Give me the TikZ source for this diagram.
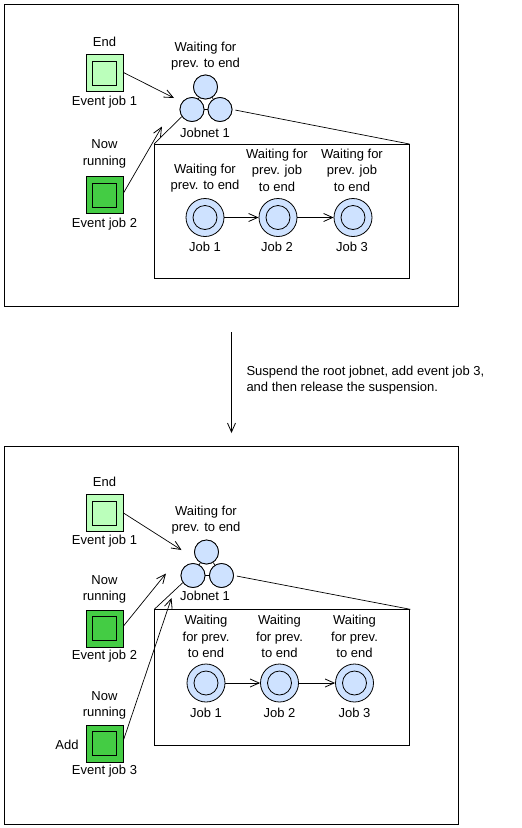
\documentclass[tikz,border=0pt]{standalone}
\usepackage{fontspec}
\setmainfont{Liberation Sans}
\usetikzlibrary{arrows.meta}
\definecolor{lgreen}{RGB}{187,255,187}
\definecolor{dgreen}{RGB}{68,204,68}
\definecolor{lblue}{RGB}{206,226,255}
\begin{document}
\begin{tikzpicture}[x=1pt,y=-1pt,line width=1pt,
  >={Straight Barb[length=9pt,width=8pt,line width=0.8pt]},
  lbl/.style={font=\fontsize{13}{16.5}\selectfont,align=center,inner sep=0pt},
  evbox/.style={draw,minimum size=37pt,inner sep=0pt},
  evin/.style={draw,minimum size=24pt,inner sep=0pt},
  jn/.style={draw,circle,fill=lblue,minimum size=24pt,inner sep=0pt,line width=0.8pt},
  jobo/.style={draw,circle,fill=lblue,minimum size=38pt,inner sep=0pt,line width=0.8pt},
  jobi/.style={draw,circle,minimum size=24pt,inner sep=0pt,line width=0.8pt},
  frame/.style={draw,line width=1pt},
  conn/.style={line width=0.7pt}]
\useasboundingbox (0,0) rectangle (522,828);

% ================= TOP PANEL =================
\node[frame,minimum width=454pt,minimum height=302pt,inner sep=0pt] (f1) at (231,155) {};

% event job 1
\node[evbox,fill=lgreen] (e1) at (104.5,73) {};
\node[evin] (e1i) at (104.5,73) {};
\node[lbl] (e1t) at (104.5,42) {End};
\node[lbl] (e1n) at (104.5,102) {Event job 1};
% event job 2
\node[evbox,fill=dgreen] (e2) at (104.5,195) {};
\node[evin] (e2i) at (104.5,195) {};
\node[lbl] (e2t) at (104.5,154) {Now\\running};
\node[lbl] (e2n) at (104.5,224) {Event job 2};

% jobnet
\node[jn] (jt) at (205.5,87) {};
\node[jn] (jl) at (192,109.5) {};
\node[jn] (jr) at (220,109.5) {};
\draw[conn] (jl) -- (jr);
\draw[conn] (jt) -- (jl);
\draw[conn] (jt) -- (jr);
\node[jn] at (205.5,87) {};
\node[jn] at (192,109.5) {};
\node[jn] at (220,109.5) {};
\node[lbl] (jlab) at (205.5,56) {Waiting for\\prev. to end};
\node[lbl] (jname) at (205,133) {Jobnet 1};

\coordinate (a1) at (174,98);
\coordinate (a2) at (162,126.5);
\draw[conn,->] (e1.east |- 0,72.5) -- (a1);
\draw[conn,->] (e2.east |- 0,193) -- (a2);

% inner box
\node[draw,minimum width=254.5pt,minimum height=134pt,inner sep=0pt,anchor=north west] (ib1) at (154,144) {};
\draw[conn] (jl.215) -- (ib1.north west);
\draw[conn,shorten <=3pt] (jr.east) -- (ib1.north east);

\node[jobo] (j1) at (205,217.5) {};
\node[jobi] at (205,217.5) {};
\node[jobo] (j2) at (278,217.5) {};
\node[jobi] at (278,217.5) {};
\node[jobo] (j3) at (353,217.5) {};
\node[jobi] at (353,217.5) {};
\draw[conn,->] (j1) -- (j2);
\draw[conn,->] (j2) -- (j3);
\node[lbl] (l1) at (205,178.3) {Waiting for\\prev. to end};
\node[lbl] (l2) at (277,170) {Waiting for\\prev. job\\to end};
\node[lbl] (l3) at (352,170) {Waiting for\\prev. job\\to end};
\node[lbl] (n1) at (205,246.7) {Job 1};
\node[lbl] (n2) at (277,246.7) {Job 2};
\node[lbl] (n3) at (352,246.7) {Job 3};

% ================= MIDDLE =================
\coordinate (m1) at (231.5,332);
\coordinate (m2) at (231.5,433);
\draw[conn,->] (m1) -- (m2);
\node[lbl,align=left,anchor=west] (mt) at (246,380) {Suspend the root jobnet, add event job 3,\\and then release the suspension.};

% ================= BOTTOM PANEL =================
\node[frame,minimum width=454pt,minimum height=378pt,inner sep=0pt] (f2) at (231,635) {};

\node[evbox,fill=lgreen] (b1) at (104.5,513) {};
\node[evin] at (104.5,513) {};
\node[lbl] (b1t) at (104.5,482) {End};
\node[lbl] (b1n) at (104.5,541) {Event job 1};

\node[evbox,fill=dgreen] (b2) at (104.5,628.5) {};
\node[evin] at (104.5,628.5) {};
\node[lbl] (b2t) at (104.5,589.5) {Now\\running};
\node[lbl] (b2n) at (104.5,656) {Event job 2};

\node[evbox,fill=dgreen] (b3) at (104.5,743.5) {};
\node[evin] at (104.5,743.5) {};
\node[lbl] (b3t) at (104.5,705.5) {Now\\running};
\node[lbl] (b3n) at (104.5,771) {Event job 3};
\node[lbl] (add) at (67,745) {Add};

\node[jn] (kt) at (206.5,552) {};
\node[jn] (kl) at (193,575.5) {};
\node[jn] (kr) at (221.5,575.5) {};
\draw[conn] (kl) -- (kr);
\draw[conn] (kt) -- (kl);
\draw[conn] (kt) -- (kr);
\node[jn] at (206.5,552) {};
\node[jn] at (193,575.5) {};
\node[jn] at (221.5,575.5) {};
\node[lbl] (klab) at (206,520) {Waiting for\\prev. to end};
\node[lbl] (kname) at (205,596) {Jobnet 1};

\coordinate (c1) at (181.5,550);
\coordinate (c2) at (166,573.5);
\coordinate (c3) at (171.5,598);
\draw[conn,->] (b1.east |- 0,513) -- (c1);
\draw[conn,->] (b2.east |- 0,626) -- (c2);
\draw[conn,->] (b3.east |- 0,740) -- (c3);

\node[draw,minimum width=255pt,minimum height=135.7pt,inner sep=0pt,anchor=north west] (ib2) at (154.3,609.3) {};
\draw[conn] (kl.215) -- (ib2.north west);
\draw[conn,shorten <=3pt] (kr.east) -- (ib2.north east);

\node[jobo] (k1) at (206,683) {};
\node[jobi] at (206,683) {};
\node[jobo] (k2) at (279.5,683) {};
\node[jobi] at (279.5,683) {};
\node[jobo] (k3) at (354.5,683) {};
\node[jobi] at (354.5,683) {};
\draw[conn,->] (k1) -- (k2);
\draw[conn,->] (k2) -- (k3);
\node[lbl] (q1) at (206,636.5) {Waiting\\for prev.\\to end};
\node[lbl] (q2) at (279.5,636.5) {Waiting\\for prev.\\to end};
\node[lbl] (q3) at (354.5,636.5) {Waiting\\for prev.\\to end};
\node[lbl] (p1) at (206,712.5) {Job 1};
\node[lbl] (p2) at (279.5,712.5) {Job 2};
\node[lbl] (p3) at (354.5,712.5) {Job 3};
\end{tikzpicture}
\end{document}
